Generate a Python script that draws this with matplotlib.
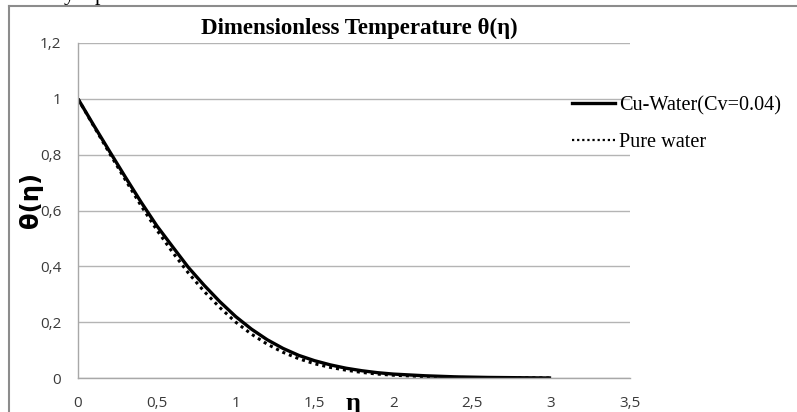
import matplotlib
matplotlib.use('Agg')
import matplotlib.pyplot as plt
from matplotlib.lines import Line2D

# eta values and temperature profiles
eta = [0.0, 0.1, 0.2, 0.3, 0.4, 0.5, 0.6, 0.7, 0.8, 0.9, 1.0, 1.1, 1.2, 1.3,
       1.4, 1.5, 1.6, 1.7, 1.8, 1.9, 2.0, 2.2, 2.4, 2.6, 2.8, 3.0]
theta_cu = [1.0, 0.905, 0.812, 0.720, 0.630, 0.545, 0.470, 0.396, 0.332,
            0.273, 0.220, 0.175, 0.137, 0.106, 0.081, 0.062, 0.047, 0.035,
            0.026, 0.019, 0.014, 0.008, 0.004, 0.002, 0.001, 0.0]
theta_water = [1.0, 0.902, 0.805, 0.710, 0.617, 0.530, 0.450, 0.376, 0.310,
               0.252, 0.200, 0.157, 0.121, 0.092, 0.069, 0.051, 0.038, 0.028,
               0.020, 0.014, 0.010, 0.005, 0.002, 0.001, 0.0005, 0.0]

x_ticks = [0, 0.5, 1, 1.5, 2, 2.5, 3, 3.5]
y_ticks = [0, 0.2, 0.4, 0.6, 0.8, 1.0, 1.2]

labels = ['Cu-Water(Cv=0.04)', 'Pure water']
title = 'Dimensionless Temperature θ(η)'

W, H = 797, 412
fig = plt.figure(figsize=(W / 100, H / 100), dpi=100)
ax = fig.add_axes([78 / W, 34 / H, 552 / W, 335 / H])

ax.plot(eta, theta_cu, color='black', lw=2.4, solid_capstyle='butt')
ax.plot(eta, theta_water, color='black', lw=2.2,
        linestyle=(0, (1, 1.3)), dash_capstyle='butt')

ax.set_xlim(0, 3.5)
ax.set_ylim(0, 1.2)
ax.set_xticks(x_ticks)
ax.set_yticks(y_ticks)


def comma(v):
    return f'{v:g}'.replace('.', ',')


ax.set_xticklabels([comma(v) for v in x_ticks])
ax.set_yticklabels([comma(v) for v in y_ticks])
ax.tick_params(length=0, labelsize=11, labelcolor='#3a3a3a')
ax.tick_params(axis='x', pad=13)
ax.tick_params(axis='y', pad=12)
for lbl in ax.get_xticklabels() + ax.get_yticklabels():
    lbl.set_fontfamily('Open Sans')

ax.grid(axis='y', color='#b4b4b4', lw=1)
ax.set_axisbelow(True)
for side in ['top', 'right']:
    ax.spines[side].set_visible(False)
for side in ['left', 'bottom']:
    ax.spines[side].set_color('#a8a8a8')
    ax.spines[side].set_linewidth(1)

fig.text(359 / W, 1 - 34 / H, title, ha='center', va='baseline',
         fontsize=16.5, fontweight='bold', family='Liberation Serif')
fig.text(31 / W, 1 - 200 / H, 'θ(η)', ha='center', va='center',
         rotation=90, fontsize=17.5, fontweight='bold', family='DejaVu Sans')
fig.text(353 / W, 2 / H, 'η', ha='center', va='baseline',
         fontsize=19, fontweight='bold', family='Liberation Serif')

# descenders of document text cut off above the chart
fig.text(64 / W, 1.0, 'y', ha='left', va='baseline',
         fontsize=16, family='Liberation Serif')
fig.text(95 / W, 1.0, 'p', ha='left', va='baseline',
         fontsize=16, family='Liberation Serif')

handles = [Line2D([], [], color='black', lw=2.4),
           Line2D([], [], color='black', lw=1.6, linestyle=(0, (1, 1.3)))]
fig.legend(handles, labels, loc='upper left',
           bbox_to_anchor=(572 / W, 1 - 96 / H), frameon=False,
           prop={'family': 'Liberation Serif', 'size': 14.6},
           handlelength=2.1, handletextpad=0.2, labelspacing=0.85,
           borderaxespad=0, borderpad=0)

# outer chart frame (left and top edges visible in the reference)
fig.add_artist(Line2D([9 / W, 9 / W], [0, 1 - 6 / H],
                      transform=fig.transFigure, color='#8c8c8c', lw=1.5))
fig.add_artist(Line2D([9 / W, 1], [1 - 6 / H, 1 - 6 / H],
                      transform=fig.transFigure, color='#8c8c8c', lw=1.5))

fig.savefig('out.png', dpi=100)
